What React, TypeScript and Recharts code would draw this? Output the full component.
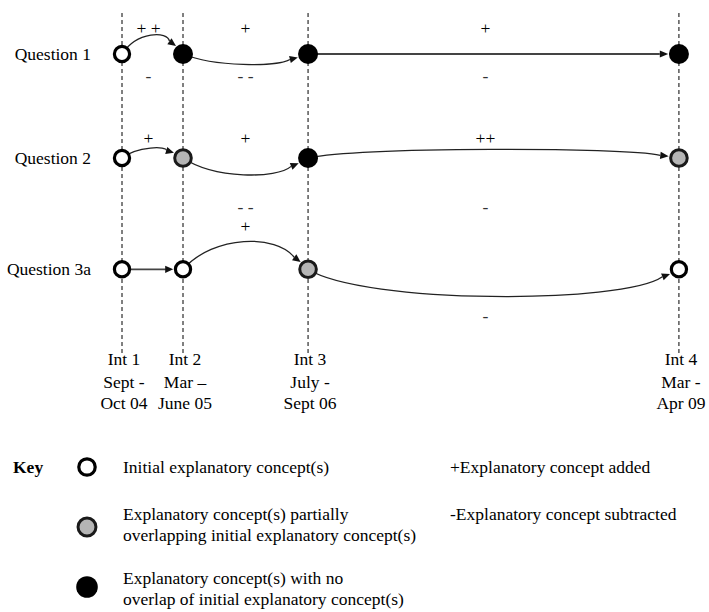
import React from 'react'
import { ComposedChart, Scatter, XAxis, YAxis, ReferenceLine, Legend } from 'recharts'

const interviews = ['Int 1', 'Int 2', 'Int 3', 'Int 4']
const interviewDates = [
  ['Sept -', 'Oct 04'],
  ['Mar \u2013', 'June 05'],
  ['July -', 'Sept 06'],
  ['Mar -', 'Apr 09'],
]
// schematic timeline, not to scale
const interviewTime = [0, 1, 3.05, 9.13]

const questions = ['Question 1', 'Question 2', 'Question 3a']
const questionRow = [0, 1, 2.07]

// concept state at each interview
const q1States = ['open', 'black', 'black', 'black']
const q2States = ['open', 'grey', 'black', 'grey']
const q3aStates = ['open', 'open', 'grey', 'open']

// concepts added / subtracted between interviews
const q1Added = ['+ +', '+', '+']
const q1Subtracted = ['-', '- -', '-']
const q2Added = ['+', '+', '++']
const q2Subtracted = ['', '- -', '-']
const q3aAdded = ['', '+', '']
const q3aSubtracted = ['', '', '-']

const keyStates = ['open', 'grey', 'black']
const keyLabels = [
  ['Initial explanatory concept(s)'],
  ['Explanatory concept(s) partially', 'overlapping initial explanatory concept(s)'],
  ['Explanatory concept(s) with no', 'overlap of initial explanatory concept(s)'],
]
const signLabels = ['+Explanatory concept added', '-Explanatory concept subtracted']

// layout
const W = 709
const H = 612
const FONT = 'Liberation Serif, DejaVu Serif, Times New Roman, serif'
const FS = 17.5
const TXT = { fontFamily: FONT, fontSize: FS }
const AXIS_W = 100
const X_DOMAIN = [-22 / 61, -22 / 61 + 609 / 61]
const Y_DOMAIN = [-54 / 104, -54 / 104 + 612 / 104]
const LINE_TOP = -0.394
const LINE_BOTTOM = 2.894
const LABEL_Y = 2.933
// bow of each transition in px (negative bows upward)
const ARCS = [[-23, 13, 0], [-12, 21, -11], [0, -35, 35]]
const SIGN_DY = [[-26, 22], [-20, 49], [-43, 47]]
const SIGN_DX = [-4, 0, -8]

const stateRows = [q1States, q2States, q3aStates]
const addedRows = [q1Added, q2Added, q3aAdded]
const subtractedRows = [q1Subtracted, q2Subtracted, q3aSubtracted]

const rows = stateRows.map((states, q) =>
  states.map((state, i) => ({ x: interviewTime[i], y: questionRow[q], state })))

const signs = addedRows.flatMap((added, q) =>
  added.flatMap((a, i) => {
    const x = (interviewTime[i] + interviewTime[i + 1]) / 2
    const out = []
    if (a) out.push({ x, y: questionRow[q], text: a, q, i, side: 0 })
    const s = subtractedRows[q][i]
    if (s) out.push({ x, y: questionRow[q], text: s, q, i, side: 1 })
    return out
  }))

const intLabels = interviews.map((name, i) => ({
  x: interviewTime[i], y: LABEL_Y, lines: [name, ...interviewDates[i]],
}))

const outerR: Record<string, number> = { open: 9.2, grey: 9.8, black: 10.2 }

function Marker({ cx, cy, state, scale = 1 }: { cx: number; cy: number; state: string; scale?: number }) {
  if (state === 'black') return <circle cx={cx} cy={cy} r={10 * scale} fill="#000" />
  if (state === 'grey') return <circle cx={cx} cy={cy} r={8.3 * scale} fill="#b5b5b5" stroke="#1a1a1a" strokeWidth={3} />
  return <circle cx={cx} cy={cy} r={7.6 * scale} fill="#fff" stroke="#000" strokeWidth={3.2} />
}

const bez = (p0: any, c1: any, c2: any, p3: any, t: number) => {
  const u = 1 - t
  return {
    x: u * u * u * p0.x + 3 * u * u * t * c1.x + 3 * u * t * t * c2.x + t * t * t * p3.x,
    y: u * u * u * p0.y + 3 * u * u * t * c1.y + 3 * u * t * t * c2.y + t * t * t * p3.y,
  }
}

function Arrow({ from, to, bend, r1 }: any) {
  const dx = to.x - from.x
  const k = dx > 150 ? 0.15 : 0.25
  const c1 = { x: from.x + k * dx, y: from.y + bend }
  const c2 = { x: to.x - k * dx, y: to.y + bend }
  const dist = (a: any, b: any) => Math.hypot(a.x - b.x, a.y - b.y)
  let t = 1
  while (t > 0 && dist(bez(from, c1, c2, to, t), to) < r1) t -= 0.002
  const tip = bez(from, c1, c2, to, t)
  let tb = t
  while (tb > 0 && dist(bez(from, c1, c2, to, tb), tip) < 8) tb -= 0.002
  const base = bez(from, c1, c2, to, tb)
  const ang = Math.atan2(tip.y - base.y, tip.x - base.x)
  const nx = -Math.sin(ang) * 3.6
  const ny = Math.cos(ang) * 3.6
  const d = `M${from.x},${from.y} C${c1.x},${c1.y} ${c2.x},${c2.y} ${base.x},${base.y}`
  return (
    <g>
      <path d={d} fill="none" stroke={bend === 0 ? '#444' : '#222'} strokeWidth={bend === 0 ? 1.8 : 1.3} />
      <polygon points={`${tip.x},${tip.y} ${base.x + nx},${base.y + ny} ${base.x - nx},${base.y - ny}`} fill="#111" />
    </g>
  )
}

function ArrowRow({ points, q }: { points: any[]; q: number }) {
  return (
    <g>
      {points.slice(1).map((p, i) => (
        <Arrow key={i} from={points[i]} to={p} bend={ARCS[q][i]} r1={outerR[rows[q][i + 1].state] + 0.5} />
      ))}
    </g>
  )
}

function KeyContent() {
  const circleY = [15, 75, 135]
  const lineY = [[15], [62, 83], [126, 147]]
  return (
    <svg width={W} height={160} style={{ display: 'block' }}>
      <text x={13} y={15} style={{ ...TXT, fontWeight: 'bold' }} dominantBaseline="central">Key</text>
      {keyStates.map((s, i) => (
        <g key={s}>
          <Marker cx={87} cy={circleY[i]} state={s} scale={1.08} />
          {keyLabels[i].map((l, j) => (
            <text key={j} x={123} y={lineY[i][j]} style={TXT} dominantBaseline="central">{l}</text>
          ))}
        </g>
      ))}
      {signLabels.map((l, i) => (
        <text key={l} x={450} y={lineY[i][0]} style={TXT} dominantBaseline="central">{l}</text>
      ))}
    </svg>
  )
}

export default function App() {
  return (
    <div style={{ position: 'absolute', left: 0, top: 0, width: W, height: H, background: '#fff', fontFamily: FONT }}>
      <ComposedChart width={W} height={H} margin={{ top: 0, right: 0, bottom: 0, left: 0 }}>
        <XAxis type="number" dataKey="x" domain={X_DOMAIN} allowDataOverflow hide />
        <YAxis type="number" dataKey="y" domain={Y_DOMAIN} allowDataOverflow reversed width={AXIS_W}
          ticks={questionRow} tickFormatter={(v: number) => questions[questionRow.indexOf(v)] ?? ''}
          axisLine={false} tickLine={false} tickSize={0} tickMargin={9}
          tick={{ fill: '#000', fontSize: FS, style: TXT }} />
        {interviewTime.map((t, i) => (
          <ReferenceLine key={i} segment={[{ x: t, y: LINE_TOP }, { x: t, y: LINE_BOTTOM }]}
            stroke="#000" strokeWidth={1} strokeDasharray="4 3" ifOverflow="visible" />
        ))}
        <Scatter data={intLabels} isAnimationActive={false} legendType="none"
          shape={(p: any) => (
            <g>
              {p.payload.lines.map((l: string, j: number) => (
                <text key={j} x={p.cx + 2} y={p.cy + [0, 23, 44][j]} textAnchor="middle" dominantBaseline="central"
                  style={TXT} fill="#000">{l}</text>
              ))}
            </g>
          )} />
        <Scatter data={signs} isAnimationActive={false} legendType="none"
          shape={(p: any) => (
            <text x={p.cx + SIGN_DX[p.payload.i]} y={p.cy + SIGN_DY[p.payload.q][p.payload.side]}
              textAnchor="middle" dominantBaseline="central" style={TXT}
              fill={p.payload.side ? '#333' : '#000'}>{p.payload.text}</text>
          )} />
        {rows.map((data, q) => (
          <Scatter key={q} data={data} isAnimationActive={false} legendType="none"
            line={(lp: any) => <ArrowRow points={lp.points} q={q} />}
            shape={(p: any) => <Marker cx={p.cx} cy={p.cy} state={p.payload.state} />} />
        ))}
        <Legend layout="horizontal" verticalAlign="middle" align="center"
          wrapperStyle={{ left: 0, top: 452, width: W, height: 160 }} content={() => <KeyContent />} />
      </ComposedChart>
    </div>
  )
}
